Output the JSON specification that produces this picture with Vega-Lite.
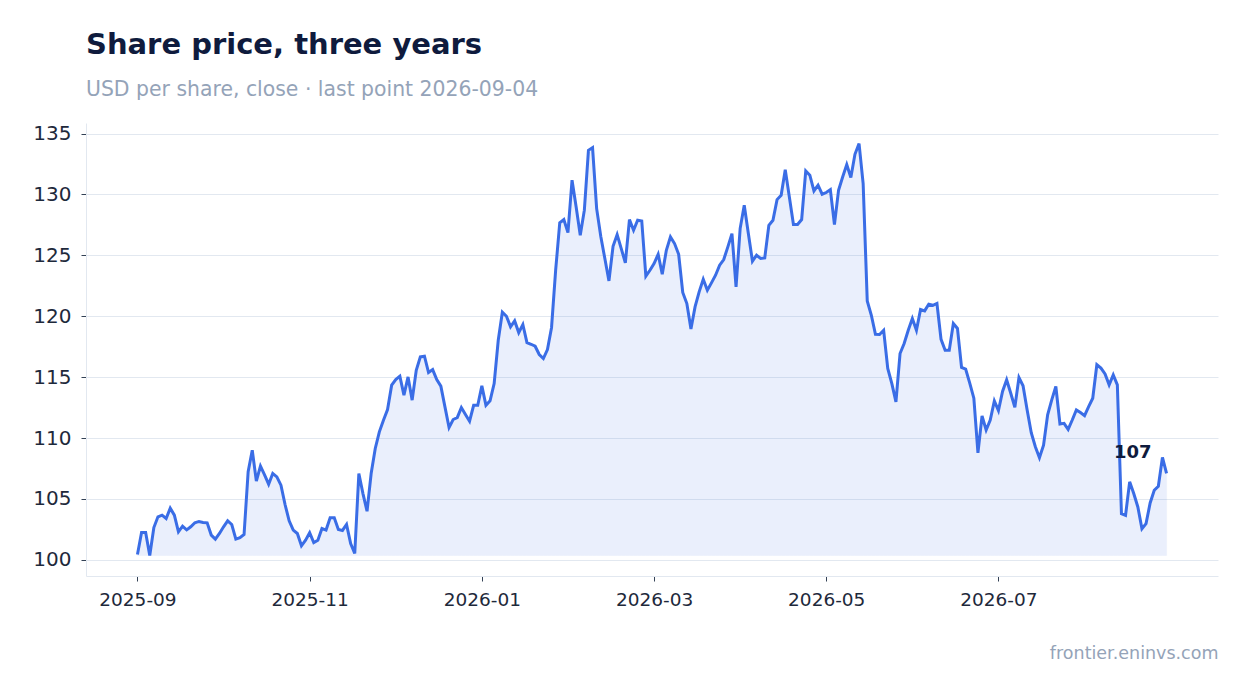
{
  "$schema": "https://vega.github.io/schema/vega-lite/v6.json",
  "description": "Daily closing share price with shaded area, last value labelled.",
  "width": 1132,
  "height": 453,
  "padding": {"left": 32, "top": 30, "right": 30, "bottom": 30},
  "title": {
    "text": "Share price, three years",
    "subtitle": "USD per share, close · last point 2026-09-04",
    "anchor": "start",
    "frame": "group",
    "fontSize": 29,
    "fontWeight": "bold",
    "color": "#0f1b3d",
    "subtitleFontSize": 20.4,
    "subtitleColor": "#94a3b8",
    "subtitlePadding": 20,
    "offset": 23
  },
  "data": {
    "values": [
      {"date": "2025-09-18", "close": 100.44}, {"date": "2025-09-19", "close": 102.24},
      {"date": "2025-09-22", "close": 102.24}, {"date": "2025-09-23", "close": 100.36},
      {"date": "2025-09-24", "close": 102.65}, {"date": "2025-09-25", "close": 103.53},
      {"date": "2025-09-26", "close": 103.67}, {"date": "2025-09-29", "close": 103.39},
      {"date": "2025-09-30", "close": 104.24}, {"date": "2025-10-01", "close": 103.67},
      {"date": "2025-10-02", "close": 102.30}, {"date": "2025-10-03", "close": 102.76},
      {"date": "2025-10-06", "close": 102.46}, {"date": "2025-10-07", "close": 102.71},
      {"date": "2025-10-08", "close": 103.04}, {"date": "2025-10-09", "close": 103.15},
      {"date": "2025-10-10", "close": 103.07}, {"date": "2025-10-13", "close": 103.04},
      {"date": "2025-10-14", "close": 102.03}, {"date": "2025-10-15", "close": 101.70},
      {"date": "2025-10-16", "close": 102.16}, {"date": "2025-10-17", "close": 102.71},
      {"date": "2025-10-20", "close": 103.20}, {"date": "2025-10-21", "close": 102.90},
      {"date": "2025-10-22", "close": 101.70}, {"date": "2025-10-23", "close": 101.81},
      {"date": "2025-10-24", "close": 102.08}, {"date": "2025-10-27", "close": 107.23},
      {"date": "2025-10-28", "close": 109.00}, {"date": "2025-10-29", "close": 106.46},
      {"date": "2025-10-30", "close": 107.69}, {"date": "2025-10-31", "close": 106.98},
      {"date": "2025-11-03", "close": 106.21}, {"date": "2025-11-04", "close": 107.09},
      {"date": "2025-11-05", "close": 106.81}, {"date": "2025-11-06", "close": 106.13},
      {"date": "2025-11-07", "close": 104.54}, {"date": "2025-11-10", "close": 103.20},
      {"date": "2025-11-11", "close": 102.44}, {"date": "2025-11-12", "close": 102.16},
      {"date": "2025-11-13", "close": 101.15}, {"date": "2025-11-14", "close": 101.61},
      {"date": "2025-11-17", "close": 102.22}, {"date": "2025-11-18", "close": 101.42},
      {"date": "2025-11-19", "close": 101.61}, {"date": "2025-11-20", "close": 102.57},
      {"date": "2025-11-21", "close": 102.44}, {"date": "2025-11-24", "close": 103.45},
      {"date": "2025-11-25", "close": 103.45}, {"date": "2025-11-26", "close": 102.49},
      {"date": "2025-11-27", "close": 102.41}, {"date": "2025-11-28", "close": 102.90},
      {"date": "2025-12-01", "close": 101.34}, {"date": "2025-12-02", "close": 100.52},
      {"date": "2025-12-03", "close": 107.09}, {"date": "2025-12-04", "close": 105.44},
      {"date": "2025-12-05", "close": 103.99}, {"date": "2025-12-08", "close": 107.09},
      {"date": "2025-12-09", "close": 109.14}, {"date": "2025-12-10", "close": 110.51},
      {"date": "2025-12-11", "close": 111.46}, {"date": "2025-12-12", "close": 112.34},
      {"date": "2025-12-15", "close": 114.34}, {"date": "2025-12-16", "close": 114.80},
      {"date": "2025-12-17", "close": 115.08}, {"date": "2025-12-18", "close": 113.52},
      {"date": "2025-12-19", "close": 115.02}, {"date": "2025-12-22", "close": 113.11},
      {"date": "2025-12-23", "close": 115.57}, {"date": "2025-12-24", "close": 116.66},
      {"date": "2025-12-25", "close": 116.72}, {"date": "2025-12-26", "close": 115.38},
      {"date": "2025-12-29", "close": 115.62}, {"date": "2025-12-30", "close": 114.80},
      {"date": "2025-12-31", "close": 114.26}, {"date": "2026-01-01", "close": 112.56},
      {"date": "2026-01-02", "close": 110.86}, {"date": "2026-01-05", "close": 111.52},
      {"date": "2026-01-06", "close": 111.68}, {"date": "2026-01-07", "close": 112.50},
      {"date": "2026-01-08", "close": 111.93}, {"date": "2026-01-09", "close": 111.38},
      {"date": "2026-01-12", "close": 112.69}, {"date": "2026-01-13", "close": 112.69},
      {"date": "2026-01-14", "close": 114.28}, {"date": "2026-01-15", "close": 112.69},
      {"date": "2026-01-16", "close": 113.05}, {"date": "2026-01-19", "close": 114.47},
      {"date": "2026-01-20", "close": 118.03}, {"date": "2026-01-21", "close": 120.33},
      {"date": "2026-01-22", "close": 120.00}, {"date": "2026-01-23", "close": 119.13},
      {"date": "2026-01-26", "close": 119.62}, {"date": "2026-01-27", "close": 118.66},
      {"date": "2026-01-28", "close": 119.32}, {"date": "2026-01-29", "close": 117.84},
      {"date": "2026-01-30", "close": 117.70}, {"date": "2026-02-02", "close": 117.54},
      {"date": "2026-02-03", "close": 116.86}, {"date": "2026-02-04", "close": 116.53},
      {"date": "2026-02-05", "close": 117.27}, {"date": "2026-02-06", "close": 119.08},
      {"date": "2026-02-09", "close": 123.78}, {"date": "2026-02-10", "close": 127.67},
      {"date": "2026-02-11", "close": 127.94}, {"date": "2026-02-12", "close": 126.87},
      {"date": "2026-02-13", "close": 131.17}, {"date": "2026-02-16", "close": 128.98},
      {"date": "2026-02-17", "close": 126.65}, {"date": "2026-02-18", "close": 128.71},
      {"date": "2026-02-19", "close": 133.63}, {"date": "2026-02-20", "close": 133.85},
      {"date": "2026-02-23", "close": 128.84}, {"date": "2026-02-24", "close": 126.57},
      {"date": "2026-02-25", "close": 124.74}, {"date": "2026-02-26", "close": 122.90},
      {"date": "2026-02-27", "close": 125.75}, {"date": "2026-03-02", "close": 126.71},
      {"date": "2026-03-03", "close": 125.56}, {"date": "2026-03-04", "close": 124.38},
      {"date": "2026-03-05", "close": 127.94}, {"date": "2026-03-06", "close": 127.06},
      {"date": "2026-03-09", "close": 127.89}, {"date": "2026-03-10", "close": 127.83},
      {"date": "2026-03-11", "close": 123.29}, {"date": "2026-03-12", "close": 123.78},
      {"date": "2026-03-13", "close": 124.33}, {"date": "2026-03-16", "close": 125.09},
      {"date": "2026-03-17", "close": 123.45}, {"date": "2026-03-18", "close": 125.42},
      {"date": "2026-03-19", "close": 126.52}, {"date": "2026-03-20", "close": 125.97},
      {"date": "2026-03-23", "close": 125.09}, {"date": "2026-03-24", "close": 121.95},
      {"date": "2026-03-25", "close": 121.04}, {"date": "2026-03-26", "close": 118.96},
      {"date": "2026-03-27", "close": 120.77}, {"date": "2026-03-30", "close": 122.00},
      {"date": "2026-03-31", "close": 123.04}, {"date": "2026-04-01", "close": 122.14},
      {"date": "2026-04-02", "close": 122.74}, {"date": "2026-04-03", "close": 123.37},
      {"date": "2026-04-06", "close": 124.19}, {"date": "2026-04-07", "close": 124.66},
      {"date": "2026-04-08", "close": 125.70}, {"date": "2026-04-09", "close": 126.79},
      {"date": "2026-04-10", "close": 122.41}, {"date": "2026-04-13", "close": 127.20},
      {"date": "2026-04-14", "close": 129.12}, {"date": "2026-04-15", "close": 126.79},
      {"date": "2026-04-16", "close": 124.52}, {"date": "2026-04-17", "close": 125.01},
      {"date": "2026-04-20", "close": 124.74}, {"date": "2026-04-21", "close": 124.79},
      {"date": "2026-04-22", "close": 127.47}, {"date": "2026-04-23", "close": 127.88},
      {"date": "2026-04-24", "close": 129.58}, {"date": "2026-04-27", "close": 129.94},
      {"date": "2026-04-28", "close": 132.04}, {"date": "2026-04-29", "close": 129.80},
      {"date": "2026-04-30", "close": 127.53}, {"date": "2026-05-01", "close": 127.53},
      {"date": "2026-05-04", "close": 127.94}, {"date": "2026-05-05", "close": 131.93},
      {"date": "2026-05-06", "close": 131.58}, {"date": "2026-05-07", "close": 130.29},
      {"date": "2026-05-08", "close": 130.76}, {"date": "2026-05-11", "close": 130.02},
      {"date": "2026-05-12", "close": 130.16}, {"date": "2026-05-13", "close": 130.40},
      {"date": "2026-05-14", "close": 127.53}, {"date": "2026-05-15", "close": 130.35},
      {"date": "2026-05-18", "close": 131.44}, {"date": "2026-05-19", "close": 132.45},
      {"date": "2026-05-20", "close": 131.39}, {"date": "2026-05-21", "close": 133.30},
      {"date": "2026-05-22", "close": 134.18}, {"date": "2026-05-25", "close": 130.89},
      {"date": "2026-05-26", "close": 121.26}, {"date": "2026-05-27", "close": 120.08},
      {"date": "2026-05-28", "close": 118.52}, {"date": "2026-05-29", "close": 118.50},
      {"date": "2026-06-01", "close": 118.85}, {"date": "2026-06-02", "close": 115.71},
      {"date": "2026-06-03", "close": 114.47}, {"date": "2026-06-04", "close": 112.97},
      {"date": "2026-06-05", "close": 116.94}, {"date": "2026-06-08", "close": 117.76},
      {"date": "2026-06-09", "close": 118.85}, {"date": "2026-06-10", "close": 119.81},
      {"date": "2026-06-11", "close": 118.85}, {"date": "2026-06-12", "close": 120.55},
      {"date": "2026-06-15", "close": 120.44}, {"date": "2026-06-16", "close": 120.99},
      {"date": "2026-06-17", "close": 120.90}, {"date": "2026-06-18", "close": 121.05},
      {"date": "2026-06-19", "close": 118.10}, {"date": "2026-06-22", "close": 117.20},
      {"date": "2026-06-23", "close": 117.20}, {"date": "2026-06-24", "close": 119.40},
      {"date": "2026-06-25", "close": 119.00}, {"date": "2026-06-26", "close": 115.80},
      {"date": "2026-06-29", "close": 115.66}, {"date": "2026-06-30", "close": 114.51},
      {"date": "2026-07-01", "close": 113.27}, {"date": "2026-07-02", "close": 108.79},
      {"date": "2026-07-03", "close": 111.81}, {"date": "2026-07-06", "close": 110.66},
      {"date": "2026-07-07", "close": 111.48}, {"date": "2026-07-08", "close": 113.05},
      {"date": "2026-07-09", "close": 112.25}, {"date": "2026-07-10", "close": 113.82},
      {"date": "2026-07-13", "close": 114.78}, {"date": "2026-07-14", "close": 113.68},
      {"date": "2026-07-15", "close": 112.53}, {"date": "2026-07-16", "close": 114.97},
      {"date": "2026-07-17", "close": 114.29}, {"date": "2026-07-20", "close": 112.31},
      {"date": "2026-07-21", "close": 110.44}, {"date": "2026-07-22", "close": 109.29},
      {"date": "2026-07-23", "close": 108.38}, {"date": "2026-07-24", "close": 109.42},
      {"date": "2026-07-27", "close": 111.90}, {"date": "2026-07-28", "close": 113.13},
      {"date": "2026-07-29", "close": 114.23}, {"date": "2026-07-30", "close": 111.15},
      {"date": "2026-07-31", "close": 111.21}, {"date": "2026-08-03", "close": 110.71},
      {"date": "2026-08-04", "close": 111.48}, {"date": "2026-08-05", "close": 112.31},
      {"date": "2026-08-06", "close": 112.09}, {"date": "2026-08-07", "close": 111.84},
      {"date": "2026-08-10", "close": 112.58}, {"date": "2026-08-11", "close": 113.27},
      {"date": "2026-08-12", "close": 116.02}, {"date": "2026-08-13", "close": 115.74},
      {"date": "2026-08-14", "close": 115.27}, {"date": "2026-08-17", "close": 114.37},
      {"date": "2026-08-18", "close": 115.19}, {"date": "2026-08-19", "close": 114.37},
      {"date": "2026-08-20", "close": 103.79}, {"date": "2026-08-21", "close": 103.65},
      {"date": "2026-08-24", "close": 106.40}, {"date": "2026-08-25", "close": 105.44},
      {"date": "2026-08-26", "close": 104.34}, {"date": "2026-08-27", "close": 102.55},
      {"date": "2026-08-28", "close": 102.97}, {"date": "2026-08-31", "close": 104.67},
      {"date": "2026-09-01", "close": 105.71}, {"date": "2026-09-02", "close": 106.04},
      {"date": "2026-09-03", "close": 108.41}, {"date": "2026-09-04", "close": 107.09}
    ]
  },
  "transform": [
    {"window": [{"op": "row_number", "as": "session"}]},
    {"joinaggregate": [{"op": "min", "field": "close", "as": "low"}]}
  ],
  "encoding": {
    "x": {
      "field": "session",
      "type": "quantitative",
      "scale": {"domain": [-11.55, 264.55], "nice": false, "zero": false},
      "axis": {
        "values": [1, 43, 85, 127, 169, 211],
        "labelExpr": "['2025-09', '2025-11', '2026-01', '2026-03', '2026-05', '2026-07'][(datum.value - 1) / 42]",
        "labelFontSize": 18.5,
        "labelPadding": 9,
        "grid": false,
        "title": "frontier.eninvs.com",
        "titleAnchor": "end",
        "titleFontSize": 17.5,
        "titleFontWeight": "normal",
        "titleColor": "#94a3b8",
        "titlePadding": 36
      }
    }
  },
  "layer": [
    {
      "mark": {"type": "area", "color": "#3a6de6", "opacity": 0.1, "stroke": "#3a6de6", "strokeWidth": 1, "strokeOpacity": 0.6},
      "encoding": {
        "y": {"field": "close", "type": "quantitative"},
        "y2": {"field": "low"}
      }
    },
    {
      "mark": {"type": "line", "color": "#3a6de6", "strokeWidth": 3},
      "encoding": {
        "y": {
          "field": "close",
          "type": "quantitative",
          "scale": {"domain": [98.67, 135.87], "nice": false, "zero": false},
          "axis": {"title": null, "tickCount": 8, "labelFontSize": 20, "labelPadding": 10}
        }
      }
    },
    {
      "transform": [{"filter": "datum.date == '2026-09-04'"}],
      "mark": {"type": "text", "align": "right", "baseline": "alphabetic", "dx": -15, "dy": -15, "fontSize": 18, "fontWeight": "bold", "color": "#0f1b3d"},
      "encoding": {
        "y": {"field": "close", "type": "quantitative"},
        "text": {"field": "close", "type": "quantitative", "format": ".0f"}
      }
    }
  ],
  "config": {
    "font": "DejaVu Sans",
    "view": {"stroke": null},
    "axis": {
      "domainColor": "#e2e8f0",
      "gridColor": "#e2e8f0",
      "tickColor": "#334155",
      "tickSize": 5,
      "labelColor": "#1e293b"
    }
  }
}
